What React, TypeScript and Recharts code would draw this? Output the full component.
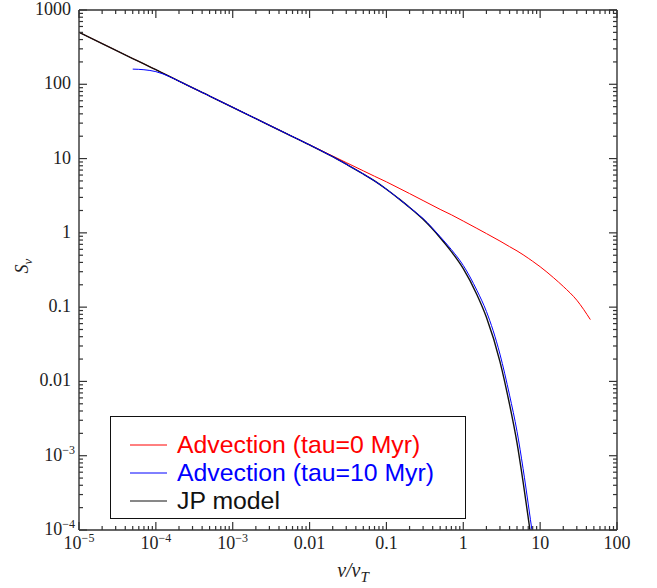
import React from "react";
import { LineChart, Line, XAxis, YAxis, Legend, Label } from "recharts";

// frequency grid, nu / nu_T
const nu = [1e-5, 2e-5, 5e-5, 7e-5, 1e-4, 1.5e-4, 2e-4, 5e-4, 1e-3, 2e-3, 5e-3, 0.01, 0.02, 0.03, 0.05, 0.07, 0.1, 0.15, 0.2, 0.3, 0.5, 0.7, 1, 1.5, 2, 3, 4, 5, 6, 7, 8, 10, 15, 20, 30, 45];

const advection0 = [501, 353, 222, 188, 157, 128, 110, 69.5, 49, 34.5, 21.7, 15.3, 10.82, 8.83, 6.84, 5.78, 4.86, 3.93, 3.38, 2.72, 2.07, 1.75, 1.44, 1.15, 0.978, 0.776, 0.652, 0.572, 0.508, 0.456, 0.414, 0.35, 0.248, 0.19, 0.124, 0.068];
const advection10 = [null, null, 160, 157, 148, 127, 110, 69.5, 49, 34.5, 21.7, 15.3, 10.6, 8.4, 6.2, 5.0, 3.87, 2.8, 2.2, 1.56, 0.89, 0.596, 0.364, 0.169, 0.0874, 0.0233, 0.00653, 0.00213, 6.7e-4, 2.24e-4, 8.4e-5, null, null, null, null, null];
const jpModel = [501, 353, 222, 188, 157, 128, 110, 69.5, 49, 34.5, 21.7, 15.3, 10.6, 8.4, 6.2, 5.0, 3.87, 2.8, 2.2, 1.52, 0.86, 0.56, 0.33, 0.148, 0.073, 0.0185, 0.0049, 0.00149, 4.44e-4, 1.46e-4, 5.4e-5, null, null, null, null, null];

const seriesNames = {
  red: "Advection (tau=0 Myr)",
  blue: "Advection (tau=10 Myr)",
  jp: "JP model",
};
const legendOrder = ["red", "blue", "jp"];

const xMajorTicks = [1e-5, 1e-4, 1e-3, 0.01, 0.1, 1, 10, 100];
const xTickLabels = ["10^−5", "10^−4", "10^−3", "0.01", "0.1", "1", "10", "100"];
const yMajorTicks = [1e-4, 1e-3, 0.01, 0.1, 1, 10, 100, 1000];
const yTickLabels = ["10^−4", "10^−3", "0.01", "0.1", "1", "10", "100", "1000"];

const data = nu.map((v, i) => ({ nu: v, red: advection0[i], blue: advection10[i], jp: jpModel[i] }));

// majors plus the 2..9 minor ticks of every decade
function withMinors(majors: number[]) {
  const out: number[] = [];
  majors.forEach((m, i) => {
    if (i === majors.length - 1) {
      out.push(m);
      return;
    }
    for (let d = 1; d <= 9; d++) out.push(m * d);
  });
  return out;
}
const xTicks = withMinors(xMajorTicks);
const yTicks = withMinors(yMajorTicks);

const axisColor = "#333";
const serif = "Liberation Serif, Times New Roman, serif";
const sans = "Liberation Sans, Arial, Helvetica, sans-serif";

function labelFor(v: number, majors: number[], labels: string[]) {
  const i = majors.findIndex((m) => Math.abs(Math.log10(m) - Math.log10(v)) < 1e-6);
  return i >= 0 ? labels[i] : null;
}

function TickText({ label, x, y, anchor }: any) {
  const [base, exp] = label.split("^");
  return (
    <text x={x} y={y} textAnchor={anchor} style={{ fontFamily: serif, fontSize: 18 }} fill="#222">
      {base}
      {exp && (
        <tspan dy={-7} style={{ fontSize: 12 }}>
          {exp}
        </tspan>
      )}
    </text>
  );
}

const makeTick = (side: string, withText: boolean) => (props: any) => {
  const { x, y, payload } = props;
  const v = payload.value;
  const horizontal = side === "bottom" || side === "top";
  const label = labelFor(v, horizontal ? xMajorTicks : yMajorTicks, horizontal ? xTickLabels : yTickLabels);
  const len = label ? 8 : 4;
  let line;
  if (side === "bottom") line = <line x1={x} y1={y} x2={x} y2={y - len} />;
  else if (side === "top") line = <line x1={x} y1={y} x2={x} y2={y + len} />;
  else if (side === "left") line = <line x1={x} y1={y} x2={x + len} y2={y} />;
  else line = <line x1={x} y1={y} x2={x - len} y2={y} />;
  let text = null;
  if (withText && label) {
    if (side === "bottom") text = <TickText label={label} x={x} y={y + 19} anchor="middle" />;
    else text = <TickText label={label} x={x - (label.includes("^") ? 4 : 8)} y={y + 5} anchor="end" />;
  }
  return (
    <g>
      <g stroke={axisColor} strokeWidth={1.2}>{line}</g>
      {text}
    </g>
  );
};

const XTitle = ({ viewBox }: any) => (
  <text x={viewBox.x + viewBox.width / 2 + 5} y={viewBox.y + 47} textAnchor="middle" style={{ fontFamily: serif, fontStyle: "italic", fontSize: 20 }} fill="#222">
    ν/ν
    <tspan dy={5} style={{ fontSize: 15 }}>T</tspan>
  </text>
);

const YTitle = ({ viewBox }: any) => {
  const x = viewBox.x + 9;
  const y = viewBox.y + viewBox.height / 2 - 4;
  return (
    <text x={x} y={y} transform={`rotate(-90, ${x}, ${y})`} textAnchor="middle" style={{ fontFamily: serif, fontStyle: "italic", fontSize: 18 }} fill="#222">
      S
      <tspan dy={4} style={{ fontSize: 13 }}>ν</tspan>
    </text>
  );
};

function LegendBox({ payload }: any) {
  const items = [...(payload || [])].sort((a: any, b: any) => legendOrder.indexOf(a.dataKey) - legendOrder.indexOf(b.dataKey));
  return (
    <div style={{ width: 356, height: 103, boxSizing: "border-box", border: "1.5px solid #111", background: "#fff", paddingTop: 14, paddingLeft: 19 }}>
      {items.map((it: any) => (
        <div key={it.dataKey} style={{ height: 28, display: "flex", alignItems: "center" }}>
          <svg width={37} height={4} style={{ marginRight: 10, display: "block" }}>
            <line x1={0} y1={2} x2={37} y2={2} stroke={it.color} strokeWidth={1} />
          </svg>
          <span style={{ color: it.color, fontFamily: sans, fontSize: 24.8, lineHeight: "28px", whiteSpace: "nowrap" }}>{it.value}</span>
        </div>
      ))}
    </div>
  );
}

export default function App() {
  return (
    <div style={{ position: "absolute", left: 0, top: 0 }}>
      <LineChart width={657} height={588} data={data} margin={{ top: 9, right: 39, bottom: 28, left: 19 }}>
        <XAxis dataKey="nu" type="number" scale="log" domain={[1e-5, 100]} allowDataOverflow ticks={xTicks} interval={0} height={30} tickSize={0} tickMargin={0} tickLine={false} axisLine={{ stroke: axisColor, strokeWidth: 1.4 }} tick={makeTick("bottom", true)}>
          <Label content={XTitle} />
        </XAxis>
        <XAxis xAxisId="top" orientation="top" dataKey="nu" type="number" scale="log" domain={[1e-5, 100]} allowDataOverflow ticks={xTicks} interval={0} height={1} tickSize={0} tickMargin={0} tickLine={false} axisLine={{ stroke: axisColor, strokeWidth: 1.4 }} tick={makeTick("top", false)} />
        <YAxis type="number" scale="log" domain={[1e-4, 1000]} allowDataOverflow ticks={yTicks} interval={0} width={60} tickSize={0} tickMargin={0} tickLine={false} axisLine={{ stroke: axisColor, strokeWidth: 1.4 }} tick={makeTick("left", true)}>
          <Label content={YTitle} />
        </YAxis>
        <YAxis yAxisId="right" orientation="right" type="number" scale="log" domain={[1e-4, 1000]} allowDataOverflow ticks={yTicks} interval={0} width={1} tickSize={0} tickMargin={0} tickLine={false} axisLine={{ stroke: axisColor, strokeWidth: 1.4 }} tick={makeTick("right", false)} />
        <Legend layout="vertical" align="center" verticalAlign="middle" content={LegendBox} wrapperStyle={{ left: 110, top: 416, width: 356, height: 103 }} />
        <Line dataKey="red" name={seriesNames.red} stroke="#ff0000" strokeWidth={1} type="monotone" dot={false} activeDot={false} isAnimationActive={false} />
        <Line dataKey="jp" name={seriesNames.jp} stroke="#111" strokeWidth={1.4} type="monotone" dot={false} activeDot={false} isAnimationActive={false} />
        <Line dataKey="blue" name={seriesNames.blue} stroke="#0000ff" strokeWidth={1} type="monotone" dot={false} activeDot={false} isAnimationActive={false} />
      </LineChart>
    </div>
  );
}
